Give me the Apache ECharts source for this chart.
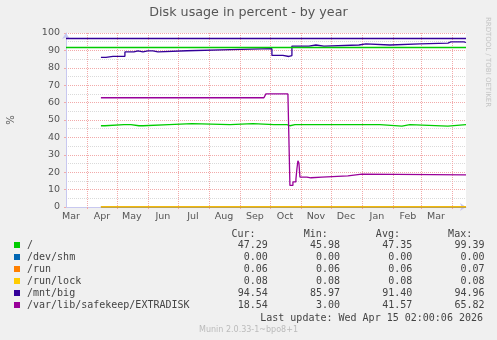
<!DOCTYPE html>
<html><head><meta charset="utf-8">
<script src="https://cdn.jsdelivr.net/npm/echarts@6/dist/echarts.min.js"></script>
<style>html,body{margin:0;padding:0;background:#F0F0F0}#c{width:497px;height:340px}</style>
</head><body><div id="c"></div>
<script>
// ---------- data ----------
const startDate = '2025-03-11T02:00:00Z';
const endDate = '2026-04-15T02:00:00Z';

const seriesNames = ['/', '/dev/shm', '/run', '/run/lock', '/mnt/big', '/var/lib/safekeep/EXTRADISK'];
const seriesColors = ['#00CC00', '#0066B3', '#FF8000', '#FFCC00', '#330099', '#990099'];

const curVals = [47.29, 0.00, 0.06, 0.08, 94.54, 18.54];
const minVals = [45.98, 0.00, 0.06, 0.08, 85.97, 3.00];
const avgVals = [47.35, 0.00, 0.06, 0.08, 91.40, 41.57];
const maxVals = [99.39, 0.00, 0.07, 0.08, 94.96, 65.82];

const monthLabels = ['Mar','Apr','May','Jun','Jul','Aug','Sep','Oct','Nov','Dec','Jan','Feb','Mar'];
const labelDates = ['2025-03-16','2025-04-16','2025-05-16','2025-06-16','2025-07-16','2025-08-16','2025-09-16','2025-10-16','2025-11-16','2025-12-16','2026-01-16','2026-02-16','2026-03-16'];
const monthStarts = ['2025-04-01','2025-05-01','2025-06-01','2025-07-01','2025-08-01','2025-09-01','2025-10-01','2025-11-01','2025-12-01','2026-01-01','2026-02-01','2026-03-01','2026-04-01'];
const yTicks = [0,10,20,30,40,50,60,70,80,90,100];

const rootDates = ['2025-04-15','2025-04-19','2025-05-08','2025-05-09','2025-05-15','2025-05-23','2025-05-24','2025-05-27','2025-06-22','2025-07-15','2025-08-22','2025-09-14','2025-10-05','2025-10-06','2025-10-18','2025-10-19','2025-10-21','2025-10-26','2025-10-28','2025-11-03','2025-11-04','2025-12-22','2025-12-23','2026-01-19','2026-02-10','2026-02-18','2026-03-28', endDate];
const rootVals = [46.7,47.3,46.7,47.3,46.7,47.3,46.7,47.3,47.9,47.3,47.9,47.3,47.9,47.3,47.9,46.7,47.3,46.7,47.3,47.9,47.3,46.7,47.3,46.5,47.3,46.5,47.3,47.29];

const shmDates = ['2025-04-15', endDate];
const shmVals = [0.00, 0.00];
const runDates = ['2025-04-15', endDate];
const runVals = [0.06, 0.06];
const lockDates = ['2025-04-15', endDate];
const lockVals = [0.08, 0.08];

const bigDates = ['2025-04-15','2025-04-20','2025-04-27','2025-04-29','2025-05-09','2025-05-18','2025-05-22','2025-05-27','2025-06-01','2025-06-02','2025-06-06','2025-06-11','2025-07-10','2025-08-23','2025-10-03','2025-10-14','2025-10-20','2025-10-23','2025-11-09','2025-11-16','2025-11-24','2025-11-25','2025-11-26','2025-12-29','2026-01-05','2026-01-29','2026-02-28','2026-03-28','2026-03-31','2026-04-01','2026-04-13', endDate];
const bigVals = [86.0,86.6,86.0,86.6,89.1,89.7,89.1,89.7,89.1,89.7,89.1,89.8,90.4,91.0,87.1,86.5,87.0,92.5,93.1,92.5,93.1,92.5,93.1,93.7,93.1,93.7,94.2,94.9,94.7,94.9,94.54,94.54];

const extraDates = ['2025-04-15','2025-09-25','2025-09-27','2025-10-19','2025-10-20','2025-10-21','2025-10-24','2025-10-27','2025-10-28','2025-10-29','2025-10-30','2025-10-31','2025-11-07','2025-11-11','2025-11-22','2025-12-18','2026-01-01', endDate];
const extraVals = [62.8,63.9,65.0,65.8,65.0,12.4,14.4,16.0,22.0,26.6,25.3,17.2,16.8,17.2,17.9,18.9,18.5,18.54];

const rootHrule = 92;
const bigHrule = 97;

const titleText = 'Disk usage in percent - by year';
const yName = '%';
const headerCols = ['Cur:', 'Min:', 'Avg:', 'Max:'];
const lastUpdate = 'Last update: Wed Apr 15 02:00:06 2026';
const footerText = 'Munin 2.0.33-1~bpo8+1';
const sideText = 'RRDTOOL / TOBI OETIKER';

// ---------- build ----------
const ts = s => Date.parse(s);
const pairs = (d, v) => d.map((x, i) => [ts(x), v[i]]);
const labelTs = labelDates.map(ts);

const seriesData = [
  pairs(rootDates, rootVals), pairs(shmDates, shmVals), pairs(runDates, runVals),
  pairs(lockDates, lockVals), pairs(bigDates, bigVals), pairs(extraDates, extraVals)
];
const hrules = [rootHrule, null, null, null, bigHrule, null];

const majorGrid = '#F2AAAA';
const minorGrid = '#DADADA';
const axisCol = '#C8C8F0';
const textCol = '#555555';
const mono = 'DejaVu Sans Mono';
const charW = 6.02;

// header columns right-aligned at monospace columns 38, 50, 62, 74 (from legend text start)
const headerLine = headerCols.map((h, i) => h.padStart(i === 0 ? 4 : 12)).join('');
function row(name) {
  const i = seriesNames.indexOf(name);
  const cur = curVals[i].toFixed(2);
  return name + ' '.repeat(Math.max(1, 40 - name.length - cur.length)) + cur +
    minVals[i].toFixed(2).padStart(12) + avgVals[i].toFixed(2).padStart(12) + maxVals[i].toFixed(2).padStart(12);
}

const series = seriesNames.map((n, i) => {
  const s = {
    name: n, type: 'line', step: 'end', data: seriesData[i],
    symbol: 'none', showSymbol: false, animation: false,
    lineStyle: { color: seriesColors[i], width: 1.3 },
    itemStyle: { color: seriesColors[i] },
    emphasis: { disabled: true }
  };
  if (hrules[i] !== null) {
    s.markLine = {
      silent: true, symbol: 'none', animation: false,
      label: { show: false },
      lineStyle: { color: seriesColors[i], type: 'solid', width: 1.3 },
      data: [{ yAxis: hrules[i] }]
    };
  }
  return s;
});

const chart = echarts.init(document.getElementById('c'), null, { renderer: 'canvas' });
chart.setOption({
  backgroundColor: '#F0F0F0',
  animation: false,
  color: seriesColors,
  title: [
    { text: titleText, left: 'center', top: 6, padding: 0,
      textStyle: { fontSize: 12.7, fontWeight: 'normal', color: textCol, fontFamily: 'DejaVu Sans' } },
    { text: headerLine, left: 26.7 + 34 * charW, top: 228, padding: 0,
      textStyle: { fontSize: 10, lineHeight: 12, fontWeight: 'normal', color: '#444', fontFamily: mono } },
    { text: lastUpdate, right: 14, top: 312, padding: 0,
      textStyle: { fontSize: 10, lineHeight: 12, fontWeight: 'normal', color: '#444', fontFamily: mono } },
    { text: footerText, left: 'center', top: 325, padding: 0,
      textStyle: { fontSize: 8, lineHeight: 10, fontWeight: 'normal', color: '#BBBBBB', fontFamily: 'DejaVu Sans' } }
  ],
  legend: {
    data: seriesNames, orient: 'vertical', left: 14, top: 239, padding: 0,
    itemGap: 0, itemWidth: 6, itemHeight: 6, icon: 'rect', selectedMode: false,
    formatter: row,
    textStyle: { fontFamily: mono, fontSize: 10, lineHeight: 12, color: '#444', padding: [0, 0, 0, 2] }
  },
  graphic: [{
    type: 'text', x: 488, y: 62, rotation: -Math.PI / 2,
    style: { text: sideText, fill: '#C4C4C4', font: '7px "DejaVu Sans"', align: 'center', verticalAlign: 'middle' }
  }],
  grid: { left: 66, top: 33, width: 400, height: 174, show: true, backgroundColor: '#FFFFFF', borderWidth: 0,
          containLabel: false, outerBoundsMode: 'none' },
  xAxis: {
    type: 'value', min: ts(startDate), max: ts(endDate), scale: true,
    axisLine: { show: true, onZero: false, lineStyle: { color: axisCol }, symbol: ['none', 'arrow'], symbolSize: [6, 6] },
    axisTick: { show: true, customValues: monthStarts.map(ts), length: 2, lineStyle: { color: majorGrid } },
    axisLabel: {
      customValues: labelTs, margin: 5, fontSize: 9.5, color: textCol, fontFamily: 'DejaVu Sans',
      formatter: v => { const i = labelTs.findIndex(t => Math.abs(t - v) < 86400000); return i >= 0 ? monthLabels[i] : ''; }
    },
    splitLine: { show: true, lineStyle: { color: majorGrid, type: [1, 1], width: 1 } }
  },
  yAxis: {
    type: 'value', min: yTicks[0], max: yTicks[yTicks.length - 1], interval: yTicks[1] - yTicks[0],
    name: yName, nameLocation: 'middle', nameRotate: 90, nameGap: 50,
    nameTextStyle: { fontSize: 10, color: textCol, fontFamily: 'DejaVu Sans' },
    axisLine: { show: true, lineStyle: { color: axisCol }, symbol: ['none', 'arrow'], symbolSize: [6, 6] },
    axisTick: { show: true, length: 2, lineStyle: { color: majorGrid } },
    minorTick: { show: false, splitNumber: 2 },
    axisLabel: { margin: 6, fontSize: 9.5, color: textCol, fontFamily: 'DejaVu Sans' },
    splitLine: { show: true, lineStyle: { color: majorGrid, type: [1, 1], width: 1 } },
    minorSplitLine: { show: true, lineStyle: { color: minorGrid, type: [1, 1], width: 1 } }
  },
  series: series
});
</script>
</body></html>
